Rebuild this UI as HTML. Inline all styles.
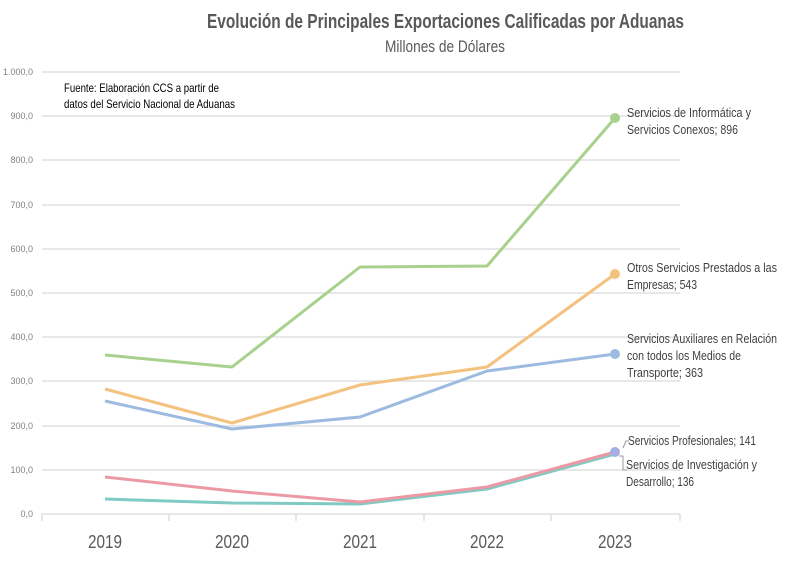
<!DOCTYPE html>
<html><head><meta charset="utf-8"><style>
body{margin:0;background:#fff;}
svg text{font-family:"Liberation Sans Narrow","Liberation Sans",sans-serif;}
</style></head><body>
<svg width="802" height="575" xmlns="http://www.w3.org/2000/svg">
<rect width="802" height="575" fill="#fff"/>
<text x="207" y="28" font-size="20" font-weight="bold" fill="#595959" textLength="477" lengthAdjust="spacingAndGlyphs">Evolución de Principales Exportaciones Calificadas por Aduanas</text>
<text x="385" y="52" font-size="17" fill="#595959" textLength="120" lengthAdjust="spacingAndGlyphs">Millones de Dólares</text>
<g stroke="#d9d9d9" stroke-width="1.3">
<line x1="42" y1="72" x2="680" y2="72"/><line x1="42" y1="116" x2="680" y2="116"/><line x1="42" y1="160" x2="680" y2="160"/><line x1="42" y1="205" x2="680" y2="205"/><line x1="42" y1="249" x2="680" y2="249"/><line x1="42" y1="293" x2="680" y2="293"/><line x1="42" y1="337" x2="680" y2="337"/><line x1="42" y1="381" x2="680" y2="381"/><line x1="42" y1="426" x2="680" y2="426"/><line x1="42" y1="470" x2="680" y2="470"/><line x1="42" y1="514" x2="680" y2="514"/>
<line x1="42" y1="514" x2="42" y2="521"/><line x1="169" y1="514" x2="169" y2="521"/><line x1="296" y1="514" x2="296" y2="521"/><line x1="424" y1="514" x2="424" y2="521"/><line x1="551" y1="514" x2="551" y2="521"/><line x1="680" y1="514" x2="680" y2="521"/>
</g>
<g font-size="9" fill="#808080" text-anchor="end">
<text x="33" y="75">1.000,0</text><text x="33" y="119">900,0</text><text x="33" y="163">800,0</text><text x="33" y="208">700,0</text><text x="33" y="252">600,0</text><text x="33" y="296">500,0</text><text x="33" y="340">400,0</text><text x="33" y="384">300,0</text><text x="33" y="429">200,0</text><text x="33" y="473">100,0</text><text x="33" y="517">0,0</text>
</g>
<g font-size="18" fill="#595959">
<text x="88" y="548" textLength="34" lengthAdjust="spacingAndGlyphs">2019</text><text x="215" y="548" textLength="34" lengthAdjust="spacingAndGlyphs">2020</text><text x="343" y="548" textLength="34" lengthAdjust="spacingAndGlyphs">2021</text><text x="470" y="548" textLength="34" lengthAdjust="spacingAndGlyphs">2022</text><text x="598" y="548" textLength="34" lengthAdjust="spacingAndGlyphs">2023</text>
</g>
<text x="64" y="92" font-size="12" fill="#000" textLength="155" lengthAdjust="spacingAndGlyphs">Fuente: Elaboración CCS a partir de</text>
<text x="64" y="108" font-size="12" fill="#000" textLength="171" lengthAdjust="spacingAndGlyphs">datos del Servicio Nacional de Aduanas</text>
<g fill="none" stroke-width="3" stroke-linejoin="round">
<polyline stroke="#a9d18e" points="105,355 232,367 360,267 487,266 615,118"/>
<polyline stroke="#f4c27f" points="105,389 232,423 360,385 487,367 615,274"/>
<polyline stroke="#9dbbe0" points="105,401 232,429 360,417 487,371 615,354"/>
<polyline stroke="#7fcac3" points="105,499 232,503 360,504 487,489 615,454"/>
<polyline stroke="#eb9aa5" points="105,477 232,491 360,502 487,487 615,452"/>
</g>
<circle cx="615" cy="118" r="5" fill="#a9d18e"/>
<circle cx="615" cy="274" r="5" fill="#f4c27f"/>
<circle cx="615" cy="354" r="5" fill="#9dbbe0"/>
<circle cx="615" cy="452" r="5" fill="#a5aee0"/>
<path d="M623,448 L626,441 L629,441 M619,456 L623,456 L623,470 L627,470" stroke="#999" fill="none"/>
<g font-size="13" fill="#404040" lengthAdjust="spacingAndGlyphs">
<text x="627" y="117" textLength="124" lengthAdjust="spacingAndGlyphs">Servicios de Informática y</text><text x="627" y="134" textLength="111" lengthAdjust="spacingAndGlyphs">Servicios Conexos; 896</text>
<text x="627" y="272" textLength="150" lengthAdjust="spacingAndGlyphs">Otros Servicios Prestados a las</text><text x="627" y="289" textLength="70" lengthAdjust="spacingAndGlyphs">Empresas; 543</text>
<text x="627" y="343" textLength="150" lengthAdjust="spacingAndGlyphs">Servicios Auxiliares en Relación</text><text x="627" y="360" textLength="114" lengthAdjust="spacingAndGlyphs">con todos los Medios de</text><text x="627" y="377" textLength="76" lengthAdjust="spacingAndGlyphs">Transporte; 363</text>
<text x="628" y="445" textLength="128" lengthAdjust="spacingAndGlyphs">Servicios Profesionales; 141</text>
<text x="626" y="469" textLength="131" lengthAdjust="spacingAndGlyphs">Servicios de Investigación y</text><text x="626" y="486" textLength="68" lengthAdjust="spacingAndGlyphs">Desarrollo; 136</text>
</g>
</svg>
</body></html>
